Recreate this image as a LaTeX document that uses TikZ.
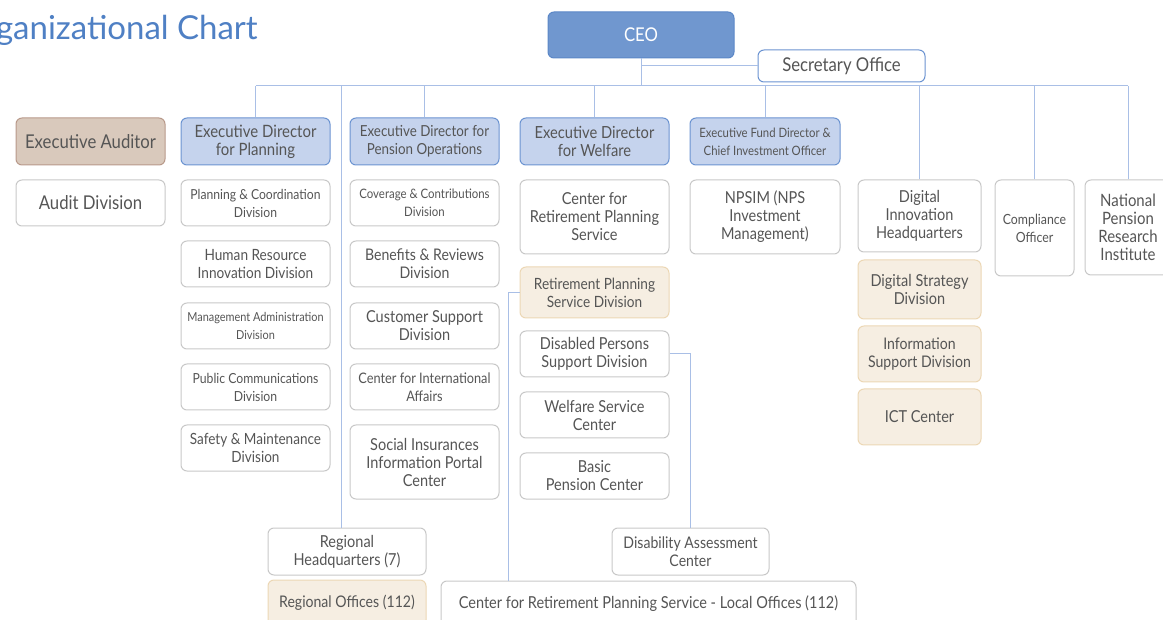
\documentclass[tikz,border=0pt]{standalone}
\usepackage{fontspec}
\setmainfont{Lato}[FakeStretch=0.88]
\newfontfamily\titlefont{Lato}
\usetikzlibrary{positioning}

\definecolor{linecol}{HTML}{A9BFE6}
\definecolor{txtgray}{HTML}{555555}
\definecolor{boxgray}{HTML}{C8C8C8}
\definecolor{ceofill}{HTML}{7097CF}
\definecolor{ceoline}{HTML}{5B87C7}
\definecolor{edfill}{HTML}{C5D3ED}
\definecolor{edline}{HTML}{6B93D1}
\definecolor{audfill}{HTML}{D9C9BC}
\definecolor{audline}{HTML}{B8998A}
\definecolor{tanfill}{HTML}{F6EEE2}
\definecolor{tanline}{HTML}{ECD7B5}
\definecolor{titleblue}{HTML}{4F80C4}

\tikzset{
  fs/.style = {font = \fontsize{#1}{18}\selectfont},
  unit/.style = {draw = boxgray, fill = white, rounded corners = 6pt, line width = 1pt,
                 align = center, inner sep = 0pt, text = txtgray, fs = 16.5},
  ceobox/.style = {unit, draw = ceoline, fill = ceofill, text = white, fs = 19},
  edbox/.style = {unit, draw = edline, fill = edfill},
  audbox/.style = {unit, draw = audline, fill = audfill, fs = 19},
  tanbox/.style = {unit, draw = tanline, fill = tanfill},
  size/.style 2 args = {minimum width = #1pt, minimum height = #2pt},
  link/.style = {draw = linecol, line width = 1pt}
}

\begin{document}
\begin{tikzpicture}[x = 1pt, y = -1pt]
  \useasboundingbox (0,0) rectangle (1163,620);
  \clip (0,0) rectangle (1163,620);

  % title
  \node [anchor = base east, inner sep = 0pt, text = titleblue,
         font = \titlefont\fontsize{33}{36}\selectfont] (title) at (258,40) {Organizational Chart};

  % top
  \node [ceobox, size = {186}{46}] (ceo) at (641,35) {CEO};
  \node [unit, draw = edline, size = {167}{32}, fs = 19] (sec) at (841.5,66) {Secretary Office};

  % directors
  \node [audbox, size = {149}{47}] (aud) at (90.5,141.5) {Executive Auditor};
  \node [edbox, size = {149}{47}, fs = 17] (ped) at (255.5,141.5) {Executive Director\\for Planning};
  \node [edbox, size = {149}{47}, fs = 15.2] (pen) at (424.5,141.5) {Executive Director for\\Pension Operations};
  \node [edbox, size = {149}{47}, fs = 16.7] (wel) at (594.5,141.5) {Executive Director\\for Welfare};
  \node [edbox, size = {150}{47}, fs = 12.9] (fund) at (765,141.5) {Executive Fund Director \&\\Chief Investment Officer};

  % audit
  \node [unit, size = {149}{46}, fs = 19] (audd) at (90.5,203) {Audit Division};

  % planning
  \node [unit, size = {149}{46}, fs = 13.8] (pc) at (255.5,203) {Planning \& Coordination\\Division};
  \node [unit, size = {149}{46}, fs = 15.5] (hr) at (255.5,264) {Human Resource\\Innovation Division};
  \node [unit, size = {149}{46}, fs = 12.4] (ma) at (255.5,326) {Management Administration\\Division};
  \node [unit, size = {149}{46}, fs = 13.9] (pcd) at (255.5,387) {Public Communications\\Division};
  \node [unit, size = {149}{46}, fs = 15.4] (sm) at (255.5,448) {Safety \& Maintenance\\Division};

  % pension operations
  \node [unit, size = {149}{46}, fs = 13] (cc) at (424.5,203) {Coverage \& Contributions\\Division};
  \node [unit, size = {149}{46}, fs = 16] (br) at (424.5,264) {Benefits \& Reviews\\Division};
  \node [unit, size = {149}{46}] (cs) at (424.5,326) {Customer Support\\Division};
  \node [unit, size = {149}{46}, fs = 14.5] (cia) at (424.5,387) {Center for International\\Affairs};
  \node [unit, size = {149}{74}] (si) at (424.5,462) {Social Insurances\\Information Portal\\Center};

  % welfare
  \node [unit, size = {149}{74}] (crps) at (594.5,217) {Center for\\Retirement Planning\\Service};
  \node [tanbox, size = {149}{51}, fs = 15.5] (rpsd) at (594.5,292.5) {Retirement Planning\\Service Division};
  \node [unit, size = {149}{46}] (dis) at (594.5,354) {Disabled Persons\\Support Division};
  \node [unit, size = {149}{46}] (wsc) at (594.5,415) {Welfare Service\\Center};
  \node [unit, size = {149}{46}] (bpc) at (594.5,476) {Basic\\Pension Center};

  % fund
  \node [unit, size = {150}{74}] (npsim) at (765,217) {NPSIM (NPS\\Investment\\Management)};

  % digital
  \node [unit, size = {123}{72}] (dihq) at (919.5,216) {Digital\\Innovation\\Headquarters};
  \node [tanbox, size = {123}{59}] (dsd) at (919.5,289.5) {Digital Strategy\\Division};
  \node [tanbox, size = {123}{56}, fs = 16] (isd) at (919.5,354) {Information\\Support Division};
  \node [tanbox, size = {123}{56}] (ict) at (919.5,417) {ICT Center};

  % others
  \node [unit, size = {79}{96}, fs = 14] (comp) at (1034.5,228) {Compliance\\Officer};
  \node [unit, size = {86}{95}, fs = 17] (npri) at (1128,227.5) {National\\Pension\\Research\\Institute};

  % bottom
  \node [unit, size = {158}{47}] (rhq) at (347,551.5) {Regional\\Headquarters (7)};
  \node [tanbox, size = {158}{46}, fs = 16] (ro) at (347,603) {Regional Offices (112)};
  \node [unit, size = {157}{47}, fs = 16] (dac) at (690.5,551.5) {Disability Assessment\\Center};
  \node [unit, size = {415}{46}] (lo) at (648.5,604) {Center for Retirement Planning Service - Local Offices (112)};

  % connectors
  \coordinate (bus) at (0,86);
  \coordinate (rdrop) at (341,86);
  \coordinate (rpsdx) at (508,292.5);
  \begin{scope}[link]
    \draw (ceo.south) -- (ceo.south |- bus);
    \draw (ceo.south |- sec.west) -- (sec.west);
    \draw (ped.north |- bus) -- (npri.north |- bus);
    \foreach \n in {ped, pen, wel, fund, dihq, comp, npri}
      \draw (\n.north) -- (\n.north |- bus);
    \draw (rdrop) -- (rdrop |- rhq.north);
    \draw (rpsd.west) -- (rpsdx) -- (rpsdx |- lo.north);
    \draw (dis.east) -| (dac.north);
  \end{scope}
\end{tikzpicture}
\end{document}
